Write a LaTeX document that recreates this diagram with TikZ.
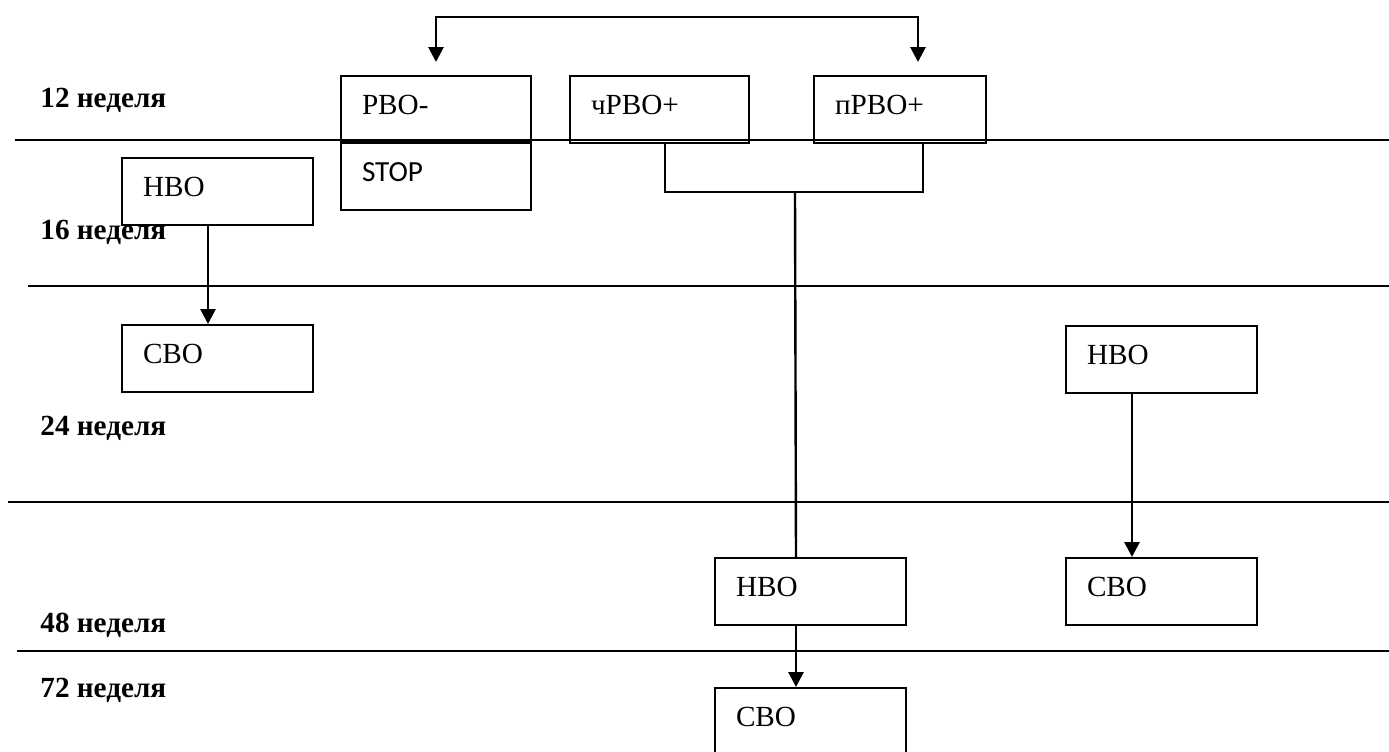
\documentclass[tikz,border=0pt]{standalone}
\usepackage{fontspec}
\setmainfont{Liberation Serif}
\newfontfamily\stopfont{Carlito}
\usetikzlibrary{arrows.meta,positioning}

\begin{document}
\begin{tikzpicture}[
  x=0.5pt, y=-0.5pt,
  stage/.style={draw, line width=1pt, rectangle, anchor=north west,
                inner xsep=10.5pt, inner ysep=0pt, align=left,
                text width=#1, text height=19pt, text depth=14.5pt,
                font=\fontsize{14.6}{17}\selectfont},
  stage/.default=74.5pt,
  week/.style={anchor=base west, inner sep=0pt,
               font=\fontsize{14.6}{17}\selectfont\bfseries},
  rule/.style={line width=1pt},
  arr/.style={-{Triangle[length=7.5pt,width=7.5pt]}, line width=1.4pt},
  link/.style={line width=0.9pt}
]
  \useasboundingbox (0,0) rectangle (1389,751);

  %% week rows
  \draw[rule] (15,140) -- (1389,140);
  \draw[rule] (28,286) -- (1389,286);
  \draw[rule] (8,502) -- (1389,502);
  \draw[rule] (17,651) -- (1389,651);

  \node[week] (w12) at (40,107) {12 неделя};
  \node[week] (w16) at (40,239) {16 неделя};
  \node[week] (w24) at (40,435) {24 неделя};
  \node[week] (w48) at (40,632) {48 неделя};
  \node[week] (w72) at (40,697) {72 неделя};

  %% response boxes
  \node[stage=74pt, text depth=13.5pt] (rvo) at (340,75) {РВО-};
  \node[stage=74pt, below=0pt of rvo,
        font=\stopfont\fontsize{14.6}{17}\selectfont] (stop) {STOP};
  \node[stage=68.5pt] (crvo) at (569,75) {чРВО+};
  \node[stage=65pt] (prvo) at (813,75) {пРВО+};

  \node[stage] (nvoA) at (121,157) {НВО};
  \node[stage] (svoA) at (121,324) {СВО};
  \node[stage] (nvoB) at (1065,325) {НВО};
  \node[stage] (svoB) at (1065,557) {СВО};
  \node[stage] (nvoC) at (714,557) {НВО};
  \node[stage] (svoC) at (714,687) {СВО};

  %% top arrow between РВО- and пРВО+
  \coordinate (bar) at (660,17);
  \draw[arr, {Triangle[length=7.5pt,width=7.5pt]}-{Triangle[length=7.5pt,width=7.5pt]}]
    ([yshift=6.5pt]rvo.north) |- (bar) -| ([xshift=9pt,yshift=6.5pt]prvo.north);

  %% joining bracket
  \coordinate (join) at (795,192);
  \draw[link] ([xshift=2.75pt]crvo.south) |- (join) -| ([xshift=11.5pt]prvo.south);
  \draw[link, line width=1.2pt] (join) -- ([xshift=-7.25pt]nvoC.north);

  \draw[arr] ([xshift=-4.75pt]nvoA.south) -- ([xshift=-4.75pt]svoA.north);
  \draw[arr] ([xshift=-14.75pt]nvoB.south) -- ([xshift=-14.75pt]svoB.north);
  \draw[arr] ([xshift=-7.25pt]nvoC.south) -- ([xshift=-7.25pt]svoC.north);
\end{tikzpicture}
\end{document}
